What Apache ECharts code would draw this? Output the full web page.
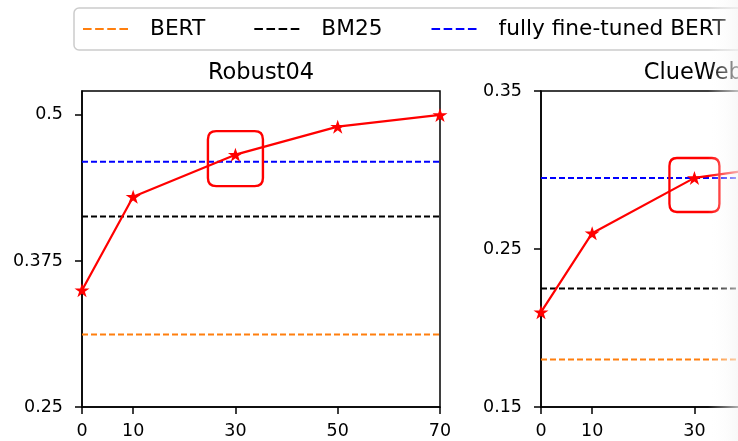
<!DOCTYPE html>
<html>
<head>
<meta charset="utf-8">
<script src="https://cdn.jsdelivr.net/npm/echarts@6/dist/echarts.min.js"></script>
<style>
  html, body { margin: 0; padding: 0; background: #fff; overflow: hidden; width: 738px; height: 441px; }
  #chart { width: 940px; height: 441px; }
</style>
</head>
<body>
<div id="chart"></div>
<script>
// data
var xValues = [0, 10, 30, 50, 70];
var xTicks = [0, 10, 30, 50, 70];
var datasets = ['Robust04', 'ClueWeb09-B'];
var robustScores = [0.350, 0.430, 0.466, 0.490, 0.500];
var clueScores = [0.210, 0.260, 0.295, 0.304, 0.309];
var bertBase = [0.312, 0.180];
var bm25Base = [0.413, 0.225];
var fullBertBase = [0.460, 0.295];
var robustTicks = [0.25, 0.375, 0.5];
var clueTicks = [0.15, 0.25, 0.35];
var highlightX = 30;

var font = 'DejaVu Sans';
var starPath = 'path://M50,0 L61.2,34.5 L97.6,34.5 L68.2,55.9 L79.4,90.5 L50,69.1 L20.6,90.5 L31.8,55.9 L2.4,34.5 L38.8,34.5 Z';
var boxPath = 'path://M15,0 L85,0 Q100,0 100,15 L100,85 Q100,100 85,100 L15,100 Q0,100 0,85 L0,15 Q0,0 15,0 Z';
var dashIcon = 'path://M0,0H8.5V2H0Z M12,0H20.5V2H12Z M24,0H32.5V2H24Z M36,0H44.5V2H36Z';

var chart = echarts.init(document.getElementById('chart'));

function xAxisFor(i) {
  return {
    type: 'value', gridIndex: i, min: 0, max: 70,
    axisLine: { lineStyle: { color: '#000', width: 1.5 } },
    axisTick: { customValues: xTicks, length: 7, lineStyle: { color: '#000', width: 1.5 } },
    axisLabel: { customValues: xTicks, color: '#000', fontFamily: font, fontSize: 17.5, margin: 15 },
    splitLine: { show: false }
  };
}
function yAxisFor(i, lo, hi, ticks) {
  return {
    type: 'value', gridIndex: i, min: lo, max: hi,
    axisLine: { show: true, lineStyle: { color: '#000', width: 1.5 } },
    axisTick: { show: true, customValues: ticks, length: 7, lineStyle: { color: '#000', width: 1.5 } },
    axisLabel: { customValues: ticks, color: '#000', fontFamily: font, fontSize: 17.5, margin: 19 },
    splitLine: { show: false }
  };
}
function baseline(name, color, i, v) {
  return {
    name: name, type: 'line', xAxisIndex: i, yAxisIndex: i,
    data: [[0, v], [70, v]], symbol: 'none', silent: true,
    itemStyle: { color: color },
    lineStyle: { color: color, width: 2, type: [6, 3] }
  };
}

var series = [];
var scores = [robustScores, clueScores];
var boxSizes = [[55, 55], [50, 54]];
var boxOffsets = [[0, 4], [0, 7]];
for (var i = 0; i < 2; i++) {
  series.push(baseline('BERT', '#ff7f0e', i, bertBase[i]));
  series.push(baseline('BM25', '#000000', i, bm25Base[i]));
  series.push(baseline('fully fine-tuned BERT', '#0000ff', i, fullBertBase[i]));
  series.push({
    name: 'ours', type: 'line', xAxisIndex: i, yAxisIndex: i,
    data: xValues.map(function (x, k) { return [x, scores[i][k]]; }),
    symbol: starPath, symbolSize: [15, 14], z: 5,
    itemStyle: { color: '#ff0000' },
    lineStyle: { color: '#ff0000', width: 2.2 }
  });
  series.push({
    name: 'highlight', type: 'scatter', xAxisIndex: i, yAxisIndex: i,
    data: [[highlightX, scores[i][xValues.indexOf(highlightX)]]],
    symbol: boxPath, symbolSize: boxSizes[i], symbolOffset: boxOffsets[i], z: 6, silent: true,
    itemStyle: { color: 'rgba(0,0,0,0)', borderColor: '#ff0000', borderWidth: 2.4, opacity: 1 }
  });
}

option = {
  animation: false,
  backgroundColor: '#fff',
  title: [
    { text: datasets[0], left: 256, top: 57, textAlign: 'center',
      textStyle: { fontFamily: font, fontSize: 22.5, fontWeight: 'normal', color: '#000' } },
    { text: datasets[1], left: 714, top: 57, textAlign: 'center',
      textStyle: { fontFamily: font, fontSize: 22.5, fontWeight: 'normal', color: '#000' } }
  ],
  legend: {
    data: [
      { name: 'BERT', icon: dashIcon },
      { name: 'BM25', icon: dashIcon },
      { name: 'fully fine-tuned BERT', icon: dashIcon }
    ],
    left: 74, top: 8, width: 850, padding: [10, 30, 10, 9],
    itemWidth: 45, itemHeight: 2.6, itemGap: 49,
    borderColor: '#cccccc', borderWidth: 1.5, borderRadius: 5,
    textStyle: { fontFamily: font, fontSize: 21.7, color: '#000', padding: [0, 0, 0, 17] }
  },
  grid: [
    { left: 82, top: 91, width: 358, height: 316, show: true, borderColor: '#000', borderWidth: 1.5 },
    { left: 541, top: 91, width: 358, height: 316, show: true, borderColor: '#000', borderWidth: 1.5 }
  ],
  xAxis: [xAxisFor(0), xAxisFor(1)],
  yAxis: [yAxisFor(0, 0.25, 0.5205, robustTicks), yAxisFor(1, 0.15, 0.35, clueTicks)],
  series: series,
  graphic: [{
    type: 'rect', left: 708, top: 0, z: 100, silent: true,
    shape: { width: 30, height: 441 },
    style: { fill: new echarts.graphic.LinearGradient(0, 0, 1, 0, [
      { offset: 0, color: 'rgba(255,255,255,0)' },
      { offset: 1, color: 'rgba(245,245,245,0.7)' }
    ]) }
  }]
};
chart.setOption(option);
window.onresize = function () { chart.resize(); };
</script>
</body>
</html>
